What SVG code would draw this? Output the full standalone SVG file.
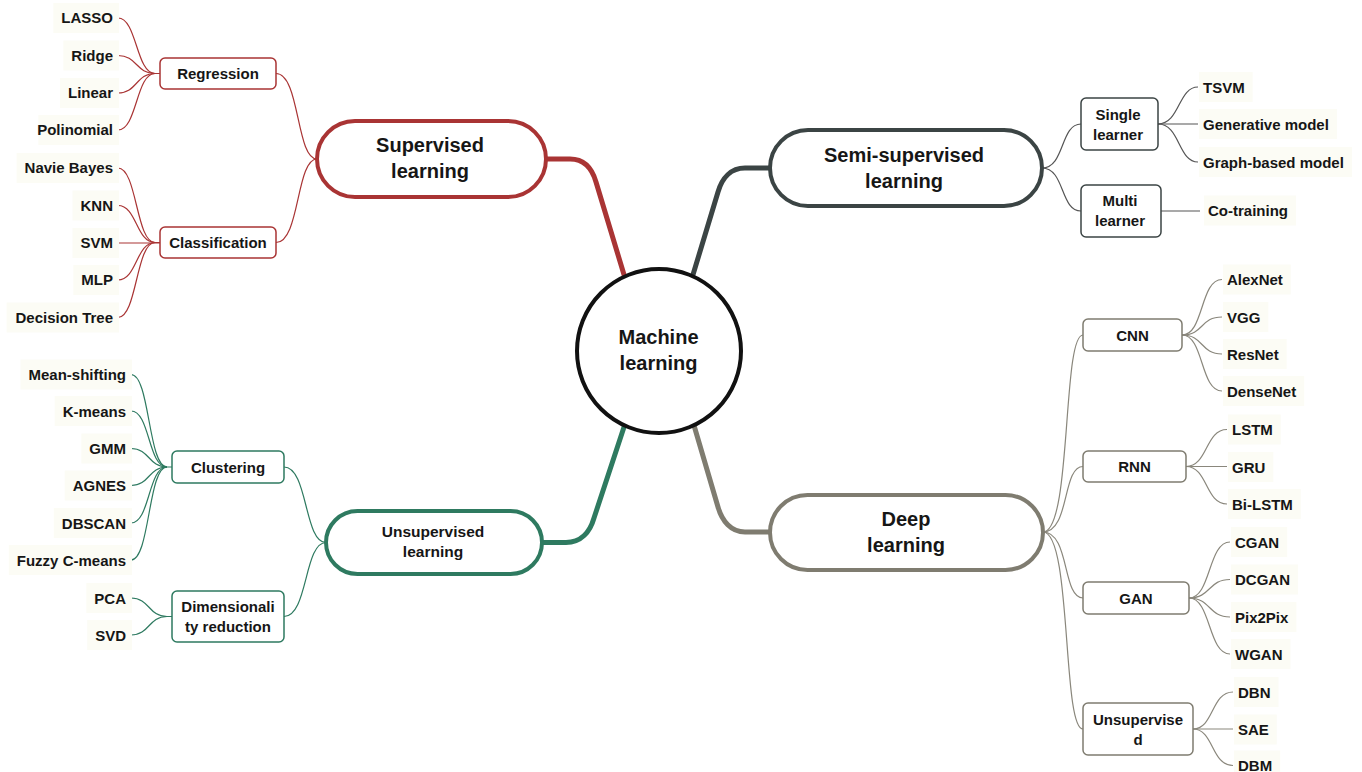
<svg xmlns="http://www.w3.org/2000/svg" width="1362" height="772" viewBox="0 0 1362 772">
<style>
.t{font-family:"Liberation Sans",Arial,sans-serif;font-weight:bold;fill:#161616}
.lf{font-size:15px}
.sb{font-size:15px;text-anchor:middle}
.mn{font-size:20px;text-anchor:middle}
.end{text-anchor:end}
.lbg{fill:#fcfcf5}
.main{fill:#fff;stroke-width:4}
.sub{fill:#fff;stroke-width:1.5}
.red{stroke:#a93434}
.dark{stroke:#3b4444}
.grn{stroke:#2e7a60}
.gry{stroke:#7f7c70}
.c{fill:none}
.thick{stroke-width:5;stroke-linecap:round}
.thin{stroke-width:1.2}
</style>
<rect width="1362" height="772" fill="#fff"/>
<g id="connectors" class="c">
  <path class="red thick" d="M546,159 L570,159 C584,159 592,168 596,182 L625,278"/>
  <path class="dark thick" d="M770,168 L745,168 C731,168 722,178 718,192 L692,278"/>
  <path class="grn thick" d="M542,542.5 L566,542.5 C581,542.5 590,532 594,518 L626,421"/>
  <path class="gry thick" d="M770,532 L745,532 C731,532 722,521 718,507 L693,422"/>
  <g class="red thin">
    <path d="M276,73.5 C300,73.5 296,159 317,159"/>
    <path d="M276,242.5 C300,242.5 296,159 317,159"/>
    <path d="M118,18 C137,18 136,73.5 155,73.5 H160"/>
    <path d="M118,55.5 C137,55.5 136,73.5 155,73.5"/>
    <path d="M118,93 C137,93 136,73.5 155,73.5"/>
    <path d="M118,130 C137,130 136,73.5 155,73.5"/>
    <path d="M118,168 C137,168 136,242.5 155,242.5 H160"/>
    <path d="M118,205.5 C137,205.5 136,242.5 155,242.5"/>
    <path d="M118,243 H160"/>
    <path d="M118,280 C137,280 136,242.5 155,242.5"/>
    <path d="M118,317.5 C137,317.5 136,242.5 155,242.5"/>
  </g>
  <g class="grn thin">
    <path d="M284,467 C308,467 304,542.5 326,542.5"/>
    <path d="M284,616.5 C308,616.5 304,542.5 326,542.5"/>
    <path d="M131,374.5 C150,374.5 148,467 167,467 H172"/>
    <path d="M131,411 C150,411 148,467 167,467"/>
    <path d="M131,448.5 C150,448.5 148,467 167,467"/>
    <path d="M131,485.5 C150,485.5 148,467 167,467"/>
    <path d="M131,523 C150,523 148,467 167,467"/>
    <path d="M131,560 C150,560 148,467 167,467"/>
    <path d="M131,598 C150,598 148,616.5 167,616.5 H172"/>
    <path d="M131,635 C150,635 148,616.5 167,616.5"/>
  </g>
  <g stroke="#555" class="thin">
    <path d="M1042,168 C1065,168 1060,124 1081,124"/>
    <path d="M1042,168 C1065,168 1060,211 1081,211"/>
    <path d="M1158,124 C1180,124 1178,87 1198,87"/>
    <path d="M1158,124 H1198"/>
    <path d="M1158,124 C1180,124 1178,162 1198,162"/>
    <path d="M1161,211 H1200"/>
  </g>
  <g stroke="#8a877c" class="thin">
    <path d="M1043,532 C1072,532 1062,335 1083,335"/>
    <path d="M1043,532 C1070,532 1062,466.5 1083,466.5"/>
    <path d="M1043,532 C1070,532 1062,598 1083,598"/>
    <path d="M1043,532 C1072,532 1062,729 1083,729"/>
    <path d="M1182,335 C1204,335 1200,279.5 1222,279.5"/>
    <path d="M1182,335 C1204,335 1200,317 1222,317"/>
    <path d="M1182,335 C1204,335 1200,354 1222,354"/>
    <path d="M1182,335 C1204,335 1200,391 1222,391"/>
    <path d="M1186,466.5 C1208,466.5 1205,429.5 1227,429.5"/>
    <path d="M1186,466.5 H1227"/>
    <path d="M1186,466.5 C1208,466.5 1205,504 1227,504"/>
    <path d="M1189,598 C1211,598 1208,542 1230,542"/>
    <path d="M1189,598 C1211,598 1208,579.5 1230,579.5"/>
    <path d="M1189,598 C1211,598 1208,617 1230,617"/>
    <path d="M1189,598 C1211,598 1208,654 1230,654"/>
    <path d="M1193,729 C1214,729 1211,692 1233,692"/>
    <path d="M1193,729 H1233"/>
    <path d="M1193,729 C1214,729 1211,765.5 1233,765.5"/>
  </g>
</g>

<g id="machine-learning">
  <circle cx="659" cy="351" r="82" fill="#fff" stroke="#111" stroke-width="4"/>
  <text class="t mn" x="658.5" y="344">Machine</text>
  <text class="t mn" x="658.5" y="370">learning</text>
</g>

<g id="supervised-learning">
  <rect class="main red" x="317" y="121" width="229" height="76" rx="38"/>
  <text class="t mn" x="430" y="152">Supervised</text>
  <text class="t mn" x="430" y="178">learning</text>
</g>
<g id="semi-supervised-learning">
  <rect class="main dark" x="770" y="130" width="272" height="76" rx="38"/>
  <text class="t mn" x="904" y="162">Semi-supervised</text>
  <text class="t mn" x="904" y="188">learning</text>
</g>
<g id="unsupervised-learning">
  <rect class="main grn" x="326" y="511" width="216" height="63" rx="31.5"/>
  <text class="t sb" x="433" y="537" style="font-size:15.5px">Unsupervised</text>
  <text class="t sb" x="433" y="557" style="font-size:15.5px">learning</text>
</g>
<g id="deep-learning">
  <rect class="main gry" x="770" y="495" width="273" height="75" rx="37.5"/>
  <text class="t mn" x="906" y="526">Deep</text>
  <text class="t mn" x="906" y="552">learning</text>
</g>

<g id="regression"><rect class="sub red" x="160" y="58" width="116" height="31" rx="5"/><text class="t sb" x="218" y="79">Regression</text></g>
<g id="classification"><rect class="sub red" x="160" y="227" width="116" height="31" rx="5"/><text class="t sb" x="218" y="248">Classification</text></g>
<g id="lasso"><rect class="lbg" x="53.3" y="3" width="65.7" height="30"/><text class="t lf end" x="113" y="23.3">LASSO</text></g>
<g id="ridge"><rect class="lbg" x="63.3" y="40.5" width="55.7" height="30"/><text class="t lf end" x="113" y="60.7">Ridge</text></g>
<g id="linear"><rect class="lbg" x="60" y="78" width="59" height="30"/><text class="t lf end" x="113" y="98.3">Linear</text></g>
<g id="polinomial"><rect class="lbg" x="38.3" y="115" width="80.7" height="30"/><text class="t lf end" x="113" y="135">Polinomial</text></g>
<g id="navie-bayes"><rect class="lbg" x="16.6" y="153" width="102.4" height="30"/><text class="t lf end" x="113" y="173.3">Navie Bayes</text></g>
<g id="knn"><rect class="lbg" x="72.5" y="190.5" width="46.5" height="30"/><text class="t lf end" x="113" y="211">KNN</text></g>
<g id="svm"><rect class="lbg" x="72.5" y="228" width="46.5" height="30"/><text class="t lf end" x="113" y="248.3">SVM</text></g>
<g id="mlp"><rect class="lbg" x="73.3" y="265" width="45.7" height="30"/><text class="t lf end" x="113" y="285">MLP</text></g>
<g id="decision-tree"><rect class="lbg" x="6.6" y="302.5" width="112.4" height="30"/><text class="t lf end" x="113" y="322.7">Decision Tree</text></g>

<g id="clustering"><rect class="sub grn" x="172" y="451" width="112" height="32" rx="5"/><text class="t sb" x="228" y="472.5">Clustering</text></g>
<g id="dimensionality-reduction"><rect class="sub grn" x="172" y="591" width="112" height="51" rx="5"/><text class="t sb" x="228" y="612">Dimensionali</text><text class="t sb" x="228" y="632">ty reduction</text></g>
<g id="mean-shifting"><rect class="lbg" x="20.5" y="359.5" width="111.5" height="30"/><text class="t lf end" x="126" y="380">Mean-shifting</text></g>
<g id="k-means"><rect class="lbg" x="54.7" y="396" width="77.3" height="30"/><text class="t lf end" x="126" y="416.5">K-means</text></g>
<g id="gmm"><rect class="lbg" x="81.3" y="433.5" width="50.7" height="30"/><text class="t lf end" x="126" y="454">GMM</text></g>
<g id="agnes"><rect class="lbg" x="64.7" y="470.5" width="67.3" height="30"/><text class="t lf end" x="126" y="491">AGNES</text></g>
<g id="dbscan"><rect class="lbg" x="53.8" y="508" width="78.2" height="30"/><text class="t lf end" x="126" y="528.5">DBSCAN</text></g>
<g id="fuzzy-c-means"><rect class="lbg" x="8.8" y="545" width="123.2" height="30"/><text class="t lf end" x="126" y="565.5">Fuzzy C-means</text></g>
<g id="pca"><rect class="lbg" x="86.3" y="583" width="45.7" height="30"/><text class="t lf end" x="126" y="603.5">PCA</text></g>
<g id="svd"><rect class="lbg" x="87.2" y="620" width="44.8" height="30"/><text class="t lf end" x="126" y="640.5">SVD</text></g>

<g id="single-learner"><rect class="sub" stroke="#3b4444" x="1081" y="98" width="77" height="52" rx="5"/><text class="t sb" x="1118" y="119.5">Single</text><text class="t sb" x="1118" y="139.5">learner</text></g>
<g id="multi-learner"><rect class="sub" stroke="#3b4444" x="1081" y="185" width="80" height="52" rx="5"/><text class="t sb" x="1120" y="206">Multi</text><text class="t sb" x="1120" y="226">learner</text></g>
<g id="tsvm"><rect class="lbg" x="1199" y="72" width="53.7" height="30"/><text class="t lf" x="1203" y="92.5">TSVM</text></g>
<g id="generative-model"><rect class="lbg" x="1199" y="109" width="138" height="30"/><text class="t lf" x="1203" y="129.5">Generative model</text></g>
<g id="graph-based-model"><rect class="lbg" x="1199" y="147" width="153" height="30"/><text class="t lf" x="1203" y="167.5">Graph-based model</text></g>
<g id="co-training"><rect class="lbg" x="1204" y="195.5" width="92" height="30"/><text class="t lf" x="1208" y="216">Co-training</text></g>

<g id="cnn"><rect class="sub gry" x="1083" y="319" width="99" height="32" rx="5"/><text class="t sb" x="1132.5" y="341">CNN</text></g>
<g id="rnn"><rect class="sub gry" x="1083" y="451" width="103" height="31" rx="5"/><text class="t sb" x="1134.5" y="472.3">RNN</text></g>
<g id="gan"><rect class="sub gry" x="1083" y="582" width="106" height="32" rx="5"/><text class="t sb" x="1136" y="603.5">GAN</text></g>
<g id="unsupervised"><rect class="sub gry" x="1083" y="703" width="110" height="52" rx="5"/><text class="t sb" x="1138" y="725">Unsupervise</text><text class="t sb" x="1138" y="744.5">d</text></g>
<g id="alexnet"><rect class="lbg" x="1223" y="264.5" width="67.8" height="30"/><text class="t lf" x="1227" y="285">AlexNet</text></g>
<g id="vgg"><rect class="lbg" x="1223" y="302" width="45.3" height="30"/><text class="t lf" x="1227" y="322.5">VGG</text></g>
<g id="resnet"><rect class="lbg" x="1223" y="339" width="63.7" height="30"/><text class="t lf" x="1227" y="359.5">ResNet</text></g>
<g id="densenet"><rect class="lbg" x="1223" y="376" width="81.2" height="30"/><text class="t lf" x="1227" y="396.5">DenseNet</text></g>
<g id="lstm"><rect class="lbg" x="1228" y="414.5" width="52.8" height="30"/><text class="t lf" x="1232" y="435">LSTM</text></g>
<g id="gru"><rect class="lbg" x="1228" y="452" width="45.3" height="30"/><text class="t lf" x="1232" y="472.5">GRU</text></g>
<g id="bi-lstm"><rect class="lbg" x="1228" y="489" width="72.8" height="30"/><text class="t lf" x="1232" y="509.5">Bi-LSTM</text></g>
<g id="cgan"><rect class="lbg" x="1231" y="527" width="56.2" height="30"/><text class="t lf" x="1235" y="547.5">CGAN</text></g>
<g id="dcgan"><rect class="lbg" x="1231" y="564.5" width="67" height="30"/><text class="t lf" x="1235" y="585">DCGAN</text></g>
<g id="pix2pix"><rect class="lbg" x="1231" y="602" width="65.4" height="30"/><text class="t lf" x="1235" y="622.5">Pix2Pix</text></g>
<g id="wgan"><rect class="lbg" x="1231" y="639" width="59.5" height="30"/><text class="t lf" x="1235" y="659.5">WGAN</text></g>
<g id="dbn"><rect class="lbg" x="1234" y="677" width="44.5" height="30"/><text class="t lf" x="1238" y="697.5">DBN</text></g>
<g id="sae"><rect class="lbg" x="1234" y="714.5" width="42.8" height="30"/><text class="t lf" x="1238" y="735">SAE</text></g>
<g id="dbm"><rect class="lbg" x="1234" y="750.5" width="46.2" height="30"/><text class="t lf" x="1238" y="770.5">DBM</text></g>
</svg>
